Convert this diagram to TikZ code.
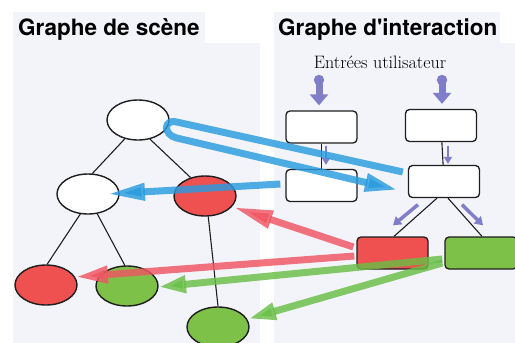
\documentclass[tikz,border=0pt]{standalone}
\usepackage{fontspec}
\newfontfamily\titlefont[Ligatures=TeXOff]{TeX Gyre Heros}
\usetikzlibrary{shapes.geometric,arrows.meta}
\definecolor{panelbg}{RGB}{243,244,250}
\definecolor{nodered}{RGB}{239,80,80}
\definecolor{nodegreen}{RGB}{125,193,72}
\definecolor{arrblue}{RGB}{40,155,222}
\definecolor{arrred}{RGB}{240,85,98}
\definecolor{arrgreen}{RGB}{105,190,70}
\definecolor{arrpurple}{RGB}{128,126,200}
\definecolor{edgeblack}{RGB}{30,30,30}
\begin{document}
\begin{tikzpicture}[x=1pt,y=-1pt,
  scn/.style={ellipse,draw=edgeblack,line width=1.4pt,minimum width=62pt,minimum height=40pt,inner sep=0pt},
  ibox/.style={rectangle,rounded corners=4pt,draw=edgeblack,line width=1.3pt,minimum width=71pt,minimum height=32pt,inner sep=0pt,fill=white},
  link/.style={draw=edgeblack,line width=1.1pt},
  fat/.style={line width=7pt,opacity=0.82},
  entry/.style={arrpurple,line width=7pt,{Circle[length=10pt,width=10pt]}-{Triangle[width=18pt,length=11pt]}},
  small/.style={arrpurple,line width=2.8pt,-{Triangle[width=8pt,length=7pt]}},
  diag/.style={arrpurple,line width=3.5pt,-{Triangle[width=10pt,length=8pt]}},
  title/.style={anchor=base west,inner sep=0pt,font=\titlefont\bfseries\fontsize{22.5}{26}\selectfont}]
\useasboundingbox (0,0) rectangle (515,343);
% panels
\fill[panelbg] (13,12) rectangle (205,43);
\fill[panelbg] (13,43) rectangle (260,343);
\fill[panelbg] (274,12) rectangle (500,43);
\fill[panelbg] (274,43) rectangle (515,343);
% titles
\node[title] (t1) at (18,35) {Graphe de scène};
\node[title] (t2) at (278,35) {Graphe d'interaction};
\node[anchor=base,inner sep=0pt,font=\fontsize{18}{21}\selectfont] (inp) at (380,68) {Entrées utilisateur};
% scene graph nodes
\node[scn,fill=white] (root) at (138,120) {};
\node[scn,fill=white] (lc) at (88,194) {};
\node[scn,fill=nodered] (rc) at (205,196) {};
\node[scn,fill=nodered] (ll) at (46,285) {};
\node[scn,fill=nodegreen] (lm) at (127,286) {};
\node[scn,fill=nodegreen] (lb) at (218,327) {};
% interaction graph nodes
\node[ibox] (tl) at (321.5,127) {};
\node[ibox] (tr) at (441,125.5) {};
\node[ibox] (ml) at (321.5,185.5) {};
\node[ibox] (mr) at (444,181.5) {};
\node[ibox,fill=nodered] (rb) at (392.5,253) {};
\node[ibox,fill=nodegreen,minimum width=72pt] (gb) at (481,253) {};
% edges
\draw[link] (root.235) -- (lc.78);
\draw[link] (root.302) -- (rc.128);
\draw[link] (lc.249) -- (ll.87);
\draw[link] (lc.295) -- (lm.96);
\draw[link] (rc.279) -- (lb.90);
\draw[link] (tl) -- (ml);
\draw[link] (tr) -- (mr);
\draw[link] ([xshift=-7pt]mr.south) -- ([xshift=1.5pt]rb.north);
\draw[link] ([xshift=4pt]mr.south) -- ([xshift=1pt]gb.north);
% purple arrows
\coordinate (in1) at (319,75);
\coordinate (in2) at (442,75);
\draw[entry] (in1) -- ([xshift=-2.5pt,yshift=5pt]tl.north);
\draw[entry] (in2) -- ([xshift=1pt,yshift=5pt]tr.north);
\draw[small] ([xshift=4.5pt,yshift=-2pt]tl.south) -- ([xshift=4.5pt,yshift=4pt]ml.north);
\draw[small] ([xshift=7pt,yshift=-3.5pt]tr.south) -- ([xshift=4pt,yshift=1pt]mr.north);
\draw[diag] ([xshift=-26pt,yshift=-6.5pt]mr.south) -- ([xshift=0.5pt,yshift=11pt]rb.north);
\draw[diag] ([xshift=18pt,yshift=-6.5pt]mr.south) -- ([xshift=2pt,yshift=11pt]gb.north);
% blue arrows
\draw[fat,arrblue,-{Triangle[width=17pt,length=33pt]}]
  ([xshift=-5pt,yshift=9.5pt]mr.west) -- ([xshift=7pt,yshift=-2pt]root.east)
  .. controls ([xshift=-6.7pt,yshift=1.1pt]root.east) and ([xshift=-6.6pt,yshift=-14.7pt]root.east) ..
  ([xshift=7pt,yshift=-18pt]root.east) -- ([xshift=-10pt,yshift=-8.5pt]mr.west);
\draw[fat,arrblue,-{Triangle[width=16pt,length=38pt]}] ([xshift=-5pt,yshift=1.5pt]ml.west) -- ([xshift=19pt]lc.center);
% red arrows
\draw[fat,arrred,-{Triangle[width=17pt,length=40pt]}] ([xshift=-3pt,yshift=6pt]rb.west) -- ([xshift=28pt,yshift=-11pt]rc.center);
\draw[fat,arrred,-{Triangle[width=16pt,length=33pt]}] ([xshift=-2pt,yshift=-3pt]rb.west) -- ([xshift=29pt,yshift=8pt]ll.center);
% green arrows
\draw[fat,arrgreen,-{Triangle[width=16pt,length=28pt]}] ([xshift=-2pt,yshift=-6pt]gb.west) -- ([xshift=31pt,yshift=-1pt]lm.center);
\draw[fat,arrgreen,-{Triangle[width=16pt,length=28pt]}] ([xshift=-2pt,yshift=-10pt]gb.west) -- ([xshift=30pt,yshift=8pt]lb.center);
\end{tikzpicture}
\end{document}
